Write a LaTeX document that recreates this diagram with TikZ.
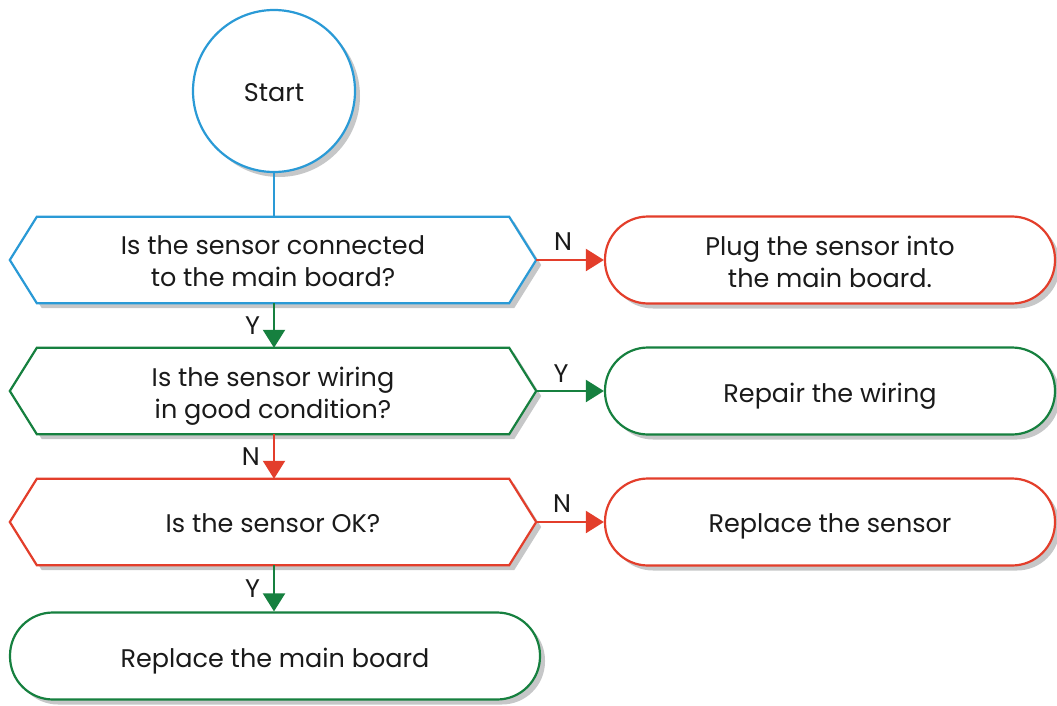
\documentclass[tikz,border=0pt]{standalone}
\usepackage{fontspec}
\setmainfont{Poppins}
\usetikzlibrary{arrows.meta,shadows}
\definecolor{cblue}{HTML}{2A9AD6}
\definecolor{cred}{HTML}{E33E2B}
\definecolor{cgreen}{HTML}{16803F}
\definecolor{cshadow}{HTML}{C6C7C8}
\definecolor{ctext}{HTML}{1A1A1A}
\pgfdeclarelayer{background}
\pgfsetlayers{background,main}
\newcommand\hexpath[1]{(#1.west) -- ([xshift=27pt]#1.north west) -- ([xshift=-27pt]#1.north east) -- (#1.east) -- ([xshift=-27pt]#1.south east) -- ([xshift=27pt]#1.south west) -- cycle}
\newcommand\hexoutline[2]{%
  \begin{pgfonlayer}{background}
    \fill[cshadow, transform canvas={xshift=5pt,yshift=-5pt}] \hexpath{#1};
    \draw[#2, line width=2.2pt, fill=white, line join=miter] \hexpath{#1};
  \end{pgfonlayer}}
\begin{document}
\begin{tikzpicture}[x=1pt,y=-1pt,
  every node/.style={font=\fontsize{25.5}{32}\selectfont, text=ctext},
  sh/.style={drop shadow={shadow xshift=5pt,shadow yshift=-5pt,fill=cshadow,opacity=1}},
  term/.style={draw, line width=2.2pt, fill=white, rounded corners=43pt,
    minimum width=450pt, minimum height=87pt, align=center, inner sep=0pt, sh},
  hexbox/.style={minimum width=526pt, minimum height=86pt, align=center, inner sep=0pt},
  conn/.style={line width=2.2pt},
  arr/.style={line width=2.2pt, -{Triangle[length=18pt,width=22pt]}},
  lbl/.style={inner sep=0pt},
  tx/.style={text depth=0pt, yshift=-1.5pt}
]
\useasboundingbox (0,0) rectangle (1057,706);

% start
\node[circle, draw=cblue, line width=2.2pt, fill=white, minimum size=162pt, inner sep=0pt, sh] (start) at (274,91) {};
\node[tx] (startlbl) at (start) {Start};

% decisions
\node[hexbox] (q1) at (273,260) {};
\node[tx, align=center] (q1t) at (q1) {Is the sensor connected\\to the main board?};
\hexoutline{q1}{cblue}
\node[hexbox] (q2) at (273,391) {};
\node[tx, align=center] (q2t) at (q2) {Is the sensor wiring\\ in good condition?};
\hexoutline{q2}{cgreen}
\node[hexbox] (q3) at (273,522) {};
\node[tx] (q3t) at (q3) {Is the sensor OK?};
\hexoutline{q3}{cred}

% actions
\node[term, draw=cred] (r1) at (830,260) {};
\node[tx, align=center] (r1t) at (r1) {Plug the sensor into\\the main board.};
\node[term, draw=cgreen] (r2) at (830,391) {};
\node[tx] (r2t) at (r2) {Repair the wiring};
\node[term, draw=cred] (r3) at (830,522) {};
\node[tx] (r3t) at (r3) {Replace the sensor};
\node[term, draw=cgreen, minimum width=530pt] (r4) at (275,656) {};
\node[tx] (r4t) at (r4) {Replace the main board};

% connectors
\draw[conn, cblue] (start.south) -- (start.south |- q1.north);
\draw[arr, cgreen] (start.south |- q1.south) -- node[lbl, left=13pt] {Y} (start.south |- q2.north);
\draw[arr, cred] (start.south |- q2.south) -- node[lbl, left=13pt] {N} (start.south |- q3.north);
\draw[arr, cgreen] (start.south |- q3.south) -- node[lbl, left=13pt] {Y} (start.south |- r4.north);

\draw[arr, cred] (q1.east) -- node[lbl, above=8pt, xshift=-7pt] {N} (r1.west);
\draw[arr, cgreen] (q2.east) -- node[lbl, above=7pt, xshift=-9pt] {Y} (r2.west);
\draw[arr, cred] (q3.east) -- node[lbl, above=8pt, xshift=-8pt] {N} (r3.west);
\end{tikzpicture}
\end{document}
